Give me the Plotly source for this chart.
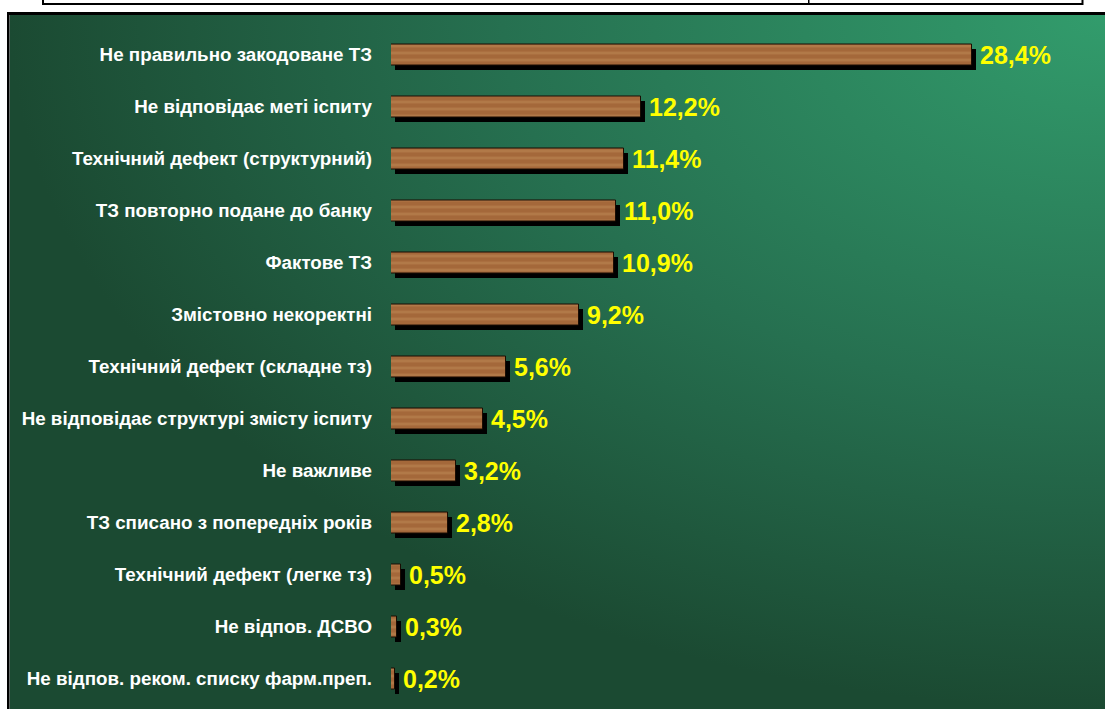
import base64
import plotly.graph_objects as go

# ---- data ----
categories = [
    "Не правильно закодоване ТЗ",
    "Не відповідає меті іспиту",
    "Технічний дефект (структурний)",
    "ТЗ повторно подане до банку",
    "Фактове ТЗ",
    "Змістовно некоректні",
    "Технічний дефект (складне тз)",
    "Не відповідає структурі змісту іспиту",
    "Не важливе",
    "ТЗ списано з попередніх років",
    "Технічний дефект (легке тз)",
    "Не відпов. ДСВО",
    "Не відпов. реком. списку фарм.преп.",
]
values = [28.4, 12.2, 11.4, 11.0, 10.9, 9.2, 5.6, 4.5, 3.2, 2.8, 0.5, 0.3, 0.2]
value_labels = [f"{v:.1f}".replace(".", ",") + "%" for v in values]

W, H = 1105, 709

def px_x(p):
    return p / W

def px_y(p):  # pixel from top -> paper from bottom
    return 1 - p / H

# geometry (pixels)
bar_left = 391
plot_right = 1100
px_per_unit = 20.46
cat_top = 28.5
cat_bottom = 704.5
cat_px = (cat_bottom - cat_top) / len(categories)
bar_w = 21 / cat_px
sh_dy = 4 / cat_px
sh_dx = 4 / px_per_unit

# background gradient as svg
svg = f'''<svg xmlns="http://www.w3.org/2000/svg" width="{W-10}" height="{H-15}" preserveAspectRatio="none">
<defs><radialGradient id="g" cx="1" cy="0" r="1" gradientUnits="objectBoundingBox">
<stop offset="0" stop-color="#329c6c"/>
<stop offset="0.55" stop-color="#267050"/>
<stop offset="1" stop-color="#1b4a32"/>
</radialGradient></defs>
<rect x="0" y="0" width="100%" height="100%" fill="url(#g)"/></svg>'''
svg_uri = "data:image/svg+xml;base64," + base64.b64encode(svg.encode()).decode()

fig = go.Figure()

# shadow
fig.add_trace(go.Bar(
    y=categories, x=values, base=[sh_dx] * len(values), orientation="h",
    width=bar_w, offset=-bar_w / 2 + sh_dy,
    marker=dict(color="#000000", line=dict(width=0)),
    hoverinfo="skip", showlegend=False,
))
# wood bars
fig.add_trace(go.Bar(
    y=categories, x=values, orientation="h",
    width=bar_w, offset=-bar_w / 2,
    marker=dict(
        color="#a4683a",
        line=dict(color="#1a0c02", width=1),
        pattern=dict(shape="-", fgcolor="#cf9c6a", bgcolor="#a4683a",
                     size=7, solidity=0.35, fgopacity=0.35),
    ),
    showlegend=False,
))

for c, v, t in zip(categories, values, value_labels):
    fig.add_annotation(
        x=v, y=c, text=f"<b>{t}</b>", showarrow=False,
        xanchor="left", yanchor="middle", xshift=6,
        font=dict(family="Arial, Liberation Sans, sans-serif", size=25, color="#ffff00"),
    )

shapes = [
    # table lines at very top
    dict(type="rect", xref="paper", yref="paper", x0=px_x(42), x1=px_x(1083),
         y0=px_y(5), y1=px_y(3), fillcolor="black", line_width=0),
    dict(type="rect", xref="paper", yref="paper", x0=px_x(42), x1=px_x(44),
         y0=px_y(5), y1=1, fillcolor="black", line_width=0),
    dict(type="rect", xref="paper", yref="paper", x0=px_x(808), x1=px_x(809.5),
         y0=px_y(5), y1=1, fillcolor="black", line_width=0),
    dict(type="rect", xref="paper", yref="paper", x0=px_x(1081.5), x1=px_x(1083.5),
         y0=px_y(5), y1=1, fillcolor="black", line_width=0),
    # panel border
    dict(type="rect", xref="paper", yref="paper", x0=px_x(7), x1=1,
         y0=px_y(15), y1=px_y(12), fillcolor="black", line_width=0),
    dict(type="rect", xref="paper", yref="paper", x0=px_x(7), x1=px_x(9.5),
         y0=0, y1=px_y(12), fillcolor="black", line_width=0),
]

fig.update_layout(
    width=W, height=H,
    margin=dict(l=0, r=0, t=0, b=0),
    paper_bgcolor="white",
    plot_bgcolor="rgba(0,0,0,0)",
    barmode="overlay",
    bargap=0,
    shapes=shapes,
    images=[dict(source=svg_uri, xref="paper", yref="paper",
                 x=px_x(9.5), y=px_y(15), sizex=1 - px_x(9.5), sizey=px_y(15),
                 xanchor="left", yanchor="top", sizing="stretch", layer="below")],
    xaxis=dict(domain=[px_x(bar_left), px_x(plot_right)],
               range=[0, (plot_right - bar_left) / px_per_unit],
               visible=False, fixedrange=True),
    yaxis=dict(domain=[px_y(cat_bottom), px_y(cat_top)],
               type="category", categoryorder="array", categoryarray=categories,
               range=[len(categories) - 0.5, -0.5],
               showgrid=False, zeroline=False, showline=False,
               ticks="", ticklabelstandoff=18,
               tickfont=dict(family="Arial, Liberation Sans, sans-serif", size=18.8, color="white"),
               tickprefix="<b>", ticksuffix="</b>", fixedrange=True),
    font=dict(family="Arial, Liberation Sans, sans-serif"),
)

fig.write_html("out.html", config={"displayModeBar": False},
               post_script="document.body.style.margin='0';document.body.style.overflow='hidden';")
